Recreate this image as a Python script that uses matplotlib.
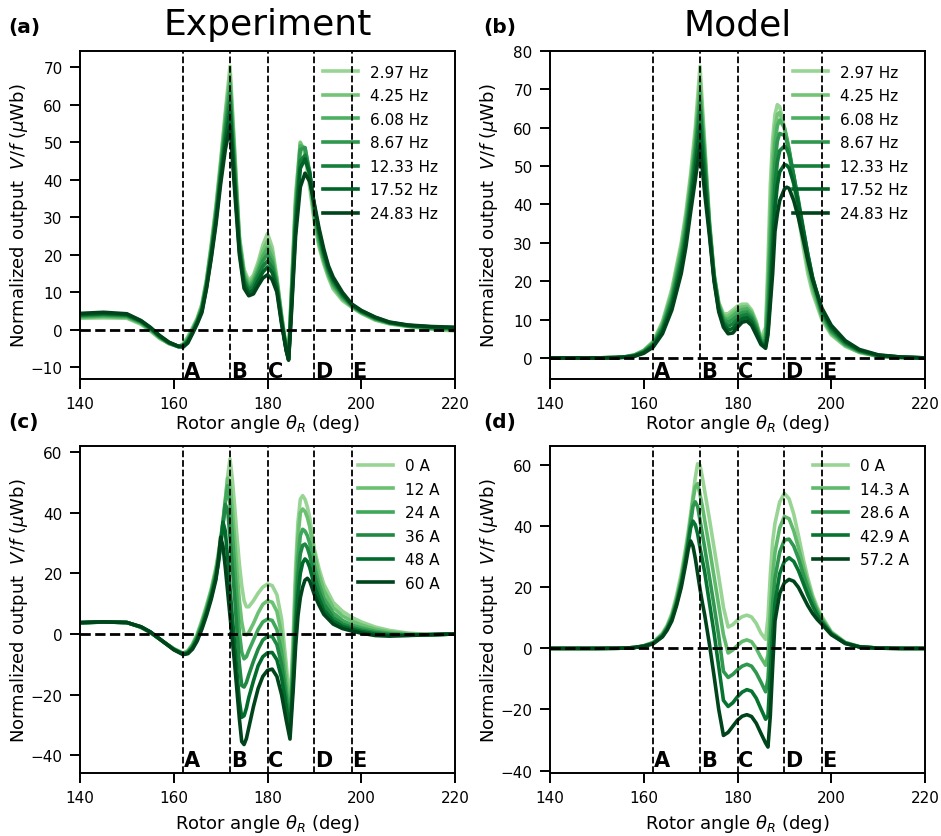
import numpy as np
import matplotlib
matplotlib.use("Agg")
import matplotlib.pyplot as plt
from matplotlib.transforms import blended_transform_factory

plt.rcParams['font.family'] = ['DejaVu Sans']
plt.rcParams['mathtext.fontset'] = 'dejavusans'

# ---------------- data ----------------
region_edges = [162, 172, 180, 190, 198]
region_names = ['A', 'B', 'C', 'D', 'E']

freq_labels = ['2.97 Hz', '4.25 Hz', '6.08 Hz', '8.67 Hz', '12.33 Hz', '17.52 Hz', '24.83 Hz']
exp_current_labels = ['0 A', '12 A', '24 A', '36 A', '48 A', '60 A']
model_current_labels = ['0 A', '14.3 A', '28.6 A', '42.9 A', '57.2 A']

# (a) experiment, frequency sweep
theta_a = [140, 145, 150, 153, 155, 157, 159, 161, 162, 163, 164, 165, 166, 167, 168, 169, 170, 171, 172, 173,
           174, 175, 176, 177, 178, 179, 180, 181, 182, 183, 184, 184.5, 185, 186, 187, 188, 189, 190, 191, 192,
           193, 194, 196, 198, 200, 203, 206, 210, 215, 220]
a_297 = [3.0, 3.1, 3.0, 1.4, -0.4, -2.4, -3.8, -4.6, -3.8, -1.9, 0.5, 3.0, 6.8, 13.5, 22.8, 33.0, 45.0, 58.0, 70.2, 48.0,
         25.0, 16.0, 13.0, 14.5, 18.0, 22.5, 25.6, 22.0, 14.0, 4.0, -5.0, -7.0, 8.0, 36.0, 50.0, 46.5, 38.0, 28.5, 22.0, 17.5,
         13.8, 10.8, 7.7, 5.9, 4.3, 2.5, 1.5, 0.8, 0.1, -0.4]
a_425 = [3.2, 3.4, 3.2, 1.6, -0.2, -2.3, -3.7, -4.6, -4.0, -2.2, 0.2, 2.8, 6.4, 13.1, 22.2, 32.3, 44.2, 56.8, 68.0, 46.5,
         24.3, 15.2, 12.3, 13.8, 17.0, 21.0, 23.6, 20.5, 13.4, 3.6, -5.1, -7.2, 7.0, 34.5, 49.8, 47.5, 39.5, 29.5, 22.8, 18.0,
         14.3, 11.3, 8.1, 6.0, 4.4, 2.6, 1.6, 0.9, 0.2, -0.2]
a_608 = [3.4, 3.6, 3.4, 1.8, 0.0, -2.1, -3.7, -4.6, -4.1, -2.5, -0.1, 2.5, 6.0, 12.7, 21.5, 31.5, 43.2, 55.3, 65.7, 45.0,
         23.5, 14.5, 11.7, 13.0, 16.0, 19.5, 21.8, 19.0, 12.8, 3.2, -5.2, -7.4, 6.0, 33.0, 49.0, 48.5, 41.0, 30.5, 23.5, 18.5,
         14.8, 11.8, 8.4, 6.2, 4.6, 2.8, 1.7, 0.9, 0.3, 0.0]
a_867 = [3.6, 3.9, 3.6, 2.0, 0.2, -2.0, -3.6, -4.5, -4.3, -2.8, -0.4, 2.3, 5.6, 12.3, 20.9, 30.8, 42.2, 53.8, 63.5, 43.0,
         22.8, 13.7, 11.0, 12.3, 15.2, 18.3, 20.1, 17.8, 12.2, 2.8, -5.3, -7.6, 5.0, 31.0, 48.0, 48.5, 42.0, 31.5, 24.5, 19.3,
         15.3, 12.3, 8.8, 6.3, 4.7, 2.9, 1.8, 1.0, 0.4, 0.2]
a_1233 = [3.8, 4.1, 3.8, 2.1, 0.3, -1.9, -3.5, -4.5, -4.4, -3.0, -0.6, 2.0, 5.3, 11.8, 20.2, 30.0, 41.0, 52.0, 60.9, 41.0,
          22.0, 13.0, 10.5, 11.5, 14.3, 16.8, 18.3, 16.5, 11.5, 2.4, -5.4, -7.8, 4.0, 29.0, 45.0, 46.5, 42.0, 32.5, 25.5, 20.0,
          15.9, 12.9, 9.2, 6.5, 4.8, 3.0, 1.8, 1.1, 0.6, 0.3]
a_1752 = [4.0, 4.3, 4.0, 2.3, 0.5, -1.7, -3.5, -4.5, -4.6, -3.3, -0.9, 1.8, 4.9, 11.4, 19.6, 29.0, 40.0, 50.0, 58.2, 39.0,
          21.0, 12.0, 9.8, 10.5, 13.0, 15.3, 16.7, 15.2, 10.8, 2.0, -5.5, -8.0, 3.0, 27.0, 43.0, 45.5, 41.5, 33.0, 26.3, 20.8,
          16.5, 13.4, 9.5, 6.6, 5.0, 3.2, 1.9, 1.1, 0.7, 0.5]
a_2483 = [4.3, 4.6, 4.2, 2.4, 0.6, -1.6, -3.4, -4.5, -4.7, -3.6, -1.1, 1.5, 4.5, 11.0, 19.0, 28.0, 38.8, 48.0, 54.2, 37.0,
          20.0, 11.0, 9.0, 9.5, 11.7, 13.7, 14.6, 13.3, 10.0, 1.5, -5.7, -8.2, 2.0, 25.0, 38.0, 41.7, 39.5, 33.5, 27.0, 21.5,
          17.0, 14.0, 9.9, 6.8, 5.1, 3.3, 2.0, 1.2, 0.8, 0.6]

# (b) model, frequency sweep
theta_b = [140, 150, 154, 156, 158, 160, 162, 164, 166, 168, 169, 170, 171, 172, 173, 174, 175, 176, 177, 178,
           179, 180, 181, 182, 183, 184, 185, 186, 186.5, 187, 187.5, 188, 188.5, 189, 190, 190.5, 191, 192, 193, 194,
           195, 196, 198, 200, 203, 206, 210, 215, 220]
b_297 = [0, 0, 0.1, 0.3, 0.8, 2.0, 4.3, 9.5, 18.0, 30.0, 38.0, 48.0, 60.0, 76.0, 56.0, 36.0, 22.0, 14.5, 11.5, 11.5,
         12.5, 13.5, 14.0, 14.0, 12.5, 9.5, 5.0, 8.0, 25.0, 45.0, 57.0, 63.5, 66.0, 65.5, 60.0, 56.5, 53.0, 45.0, 37.0, 29.0,
         22.0, 17.0, 10.0, 6.0, 3.0, 1.4, 0.4, 0.1, 0]
b_425 = [0, 0, 0.1, 0.3, 0.75, 1.9, 4.1, 9.0, 17.2, 29.0, 36.8, 46.5, 58.0, 72.5, 54.5, 35.5, 21.8, 14.2, 11.0, 10.8,
         11.8, 12.8, 13.3, 13.4, 12.0, 9.1, 4.8, 6.5, 20.0, 38.0, 52.0, 60.0, 63.5, 64.0, 60.0, 57.0, 54.0, 46.0, 38.3, 30.5,
         23.5, 18.0, 10.5, 6.3, 3.2, 1.5, 0.4, 0.1, 0]
b_608 = [0, 0, 0.1, 0.25, 0.7, 1.8, 3.9, 8.5, 16.3, 27.8, 35.5, 45.0, 56.0, 69.5, 53.0, 35.0, 21.5, 13.8, 10.5, 10.0,
         11.0, 12.0, 12.6, 12.8, 11.5, 8.7, 4.6, 5.5, 16.0, 32.0, 46.0, 56.0, 60.5, 62.0, 60.0, 57.5, 54.5, 47.0, 39.5, 32.0,
         24.5, 19.0, 11.0, 6.7, 3.4, 1.6, 0.5, 0.1, 0]
b_867 = [0, 0, 0.1, 0.25, 0.65, 1.7, 3.7, 8.0, 15.5, 26.6, 34.0, 43.5, 54.2, 67.0, 51.5, 34.5, 21.3, 13.5, 10.0, 9.2,
         10.0, 11.0, 11.8, 12.0, 10.8, 8.2, 4.4, 4.5, 12.0, 26.0, 40.0, 51.0, 56.5, 58.5, 58.0, 56.5, 54.0, 47.5, 40.5, 33.0,
         26.0, 20.0, 11.5, 7.0, 3.6, 1.7, 0.5, 0.1, 0]
b_1233 = [0, 0, 0.1, 0.2, 0.6, 1.5, 3.4, 7.5, 14.6, 25.3, 32.5, 41.8, 52.3, 64.5, 49.5, 34.0, 21.0, 13.0, 9.3, 8.2,
          8.9, 10.0, 11.0, 11.3, 10.2, 7.5, 4.1, 3.5, 9.0, 20.0, 33.0, 45.0, 51.0, 54.0, 55.2, 54.5, 53.0, 47.5, 41.0, 34.0,
          27.0, 21.0, 12.0, 7.5, 3.9, 1.9, 0.6, 0.2, 0]
b_1752 = [0, 0, 0.05, 0.2, 0.5, 1.4, 3.1, 6.9, 13.6, 23.8, 30.8, 40.0, 49.5, 60.4, 46.5, 33.0, 20.5, 12.5, 8.7, 7.2,
          7.7, 9.0, 10.2, 10.5, 9.4, 6.8, 3.8, 3.0, 7.0, 16.0, 28.0, 39.0, 45.0, 48.5, 50.4, 50.2, 49.5, 45.5, 40.0, 33.5,
          27.0, 21.0, 12.5, 8.0, 4.2, 2.0, 0.7, 0.2, 0]
b_2483 = [0, 0, 0.05, 0.15, 0.4, 1.2, 2.8, 6.3, 12.5, 22.0, 29.0, 38.0, 46.5, 55.2, 43.0, 32.0, 20.0, 12.0, 8.0, 6.3,
          6.5, 8.0, 9.3, 9.6, 8.5, 6.0, 3.5, 2.5, 6.0, 14.0, 22.0, 33.0, 37.5, 41.0, 44.0, 44.5, 44.2, 41.0, 36.5, 31.0,
          25.5, 20.5, 13.0, 8.5, 4.5, 2.2, 0.8, 0.2, 0]

# (c) experiment, current sweep
theta_c = [140, 145, 150, 153, 155, 158, 160, 162, 163, 164, 165, 166, 167, 168, 169, 169.5, 170, 170.5, 171, 171.5,
           172, 172.5, 173, 173.5, 174, 174.5, 175, 175.5, 176, 177, 178, 179, 180, 181, 182, 183, 184, 184.8, 185.5, 186,
           186.5, 187, 187.5, 188, 188.5, 189, 190, 191, 192, 194, 196, 198, 200, 203, 206, 210, 215, 220]
c_0 = [3.6, 4.0, 3.8, 2.2, 0.5, -2.8, -4.8, -6.3, -5.5, -3.3, 0.0, 4.5, 9.5, 15.0, 22.0, 26.5, 31.5, 37.5, 44.5, 52.0,
       57.8, 51.0, 42.0, 32.0, 23.0, 16.0, 11.0, 9.0, 9.0, 11.0, 13.5, 15.5, 16.5, 16.0, 13.0, 5.0, -10.0, -24.0, 0.0, 22.0,
       37.0, 44.5, 45.7, 44.5, 42.0, 38.5, 28.0, 21.5, 16.5, 10.5, 7.5, 5.5, 4.0, 2.3, 1.2, 0.3, -0.2, 0.0]
c_12 = [3.6, 4.0, 3.8, 2.2, 0.5, -2.8, -4.9, -6.4, -5.7, -3.6, -0.4, 4.0, 8.9, 14.4, 21.3, 25.8, 31.0, 37.0, 44.0, 51.5,
        50.0, 41.0, 31.0, 20.5, 11.0, 4.0, 0.0, -0.3, 0.5, 3.5, 7.0, 9.8, 11.0, 10.5, 7.5, 0.0, -14.0, -26.0, -4.0, 17.0,
        32.0, 40.0, 41.3, 40.5, 38.5, 35.5, 26.5, 19.5, 14.5, 8.8, 6.0, 4.3, 3.0, 1.6, 0.7, 0.1, -0.2, 0.0]
c_24 = [3.7, 4.0, 3.8, 2.3, 0.6, -2.8, -5.0, -6.5, -5.9, -3.9, -0.8, 3.4, 8.3, 13.8, 20.5, 25.0, 30.5, 36.5, 43.5, 49.0,
        43.0, 33.0, 22.0, 10.5, 0.5, -6.0, -8.2, -7.5, -5.5, -2.0, 1.5, 4.0, 4.9, 4.5, 1.5, -6.0, -18.0, -28.0, -8.0, 11.0,
        25.0, 32.5, 34.6, 34.0, 32.5, 30.0, 22.5, 16.5, 12.0, 7.0, 4.5, 3.0, 2.0, 0.9, 0.2, -0.2, -0.2, 0.0]
c_36 = [3.7, 4.0, 3.8, 2.3, 0.6, -2.8, -5.0, -6.6, -6.1, -4.3, -1.3, 2.8, 7.6, 13.0, 19.6, 24.0, 29.5, 36.0, 42.8, 41.0,
        32.0, 22.0, 12.0, 1.0, -10.0, -17.0, -17.5, -16.0, -13.5, -9.0, -5.0, -2.0, -0.8, -0.8, -3.5, -10.0, -21.0, -30.0, -12.0, 5.0,
        19.0, 26.5, 29.3, 29.7, 28.5, 26.0, 19.5, 14.0, 10.0, 5.5, 3.3, 2.2, 1.3, 0.4, -0.1, -0.3, -0.2, 0.0]
c_48 = [3.8, 4.0, 3.8, 2.4, 0.7, -2.8, -5.1, -6.7, -6.3, -4.6, -1.8, 2.2, 6.9, 12.3, 18.7, 23.0, 29.0, 37.0, 34.0, 25.0,
        15.0, 5.5, -3.5, -13.0, -22.0, -27.5, -27.0, -24.5, -21.0, -15.5, -10.5, -7.5, -6.2, -6.1, -8.5, -14.5, -24.0, -32.0, -15.0, 1.0,
        13.0, 20.0, 23.5, 24.8, 24.0, 22.0, 16.0, 11.5, 8.0, 4.3, 2.5, 1.6, 0.8, 0.0, -0.4, -0.4, -0.2, 0.0]
c_60 = [3.8, 4.0, 3.8, 2.4, 0.7, -2.8, -5.2, -6.8, -6.5, -5.0, -2.3, 1.6, 6.2, 11.5, 18.0, 24.0, 32.0, 29.0, 22.0, 14.0,
        6.0, -2.0, -10.0, -19.0, -28.0, -35.5, -36.5, -34.5, -31.0, -24.0, -18.0, -14.0, -12.0, -11.6, -14.0, -20.0, -28.5, -34.7, -18.0, -4.0,
        6.0, 12.0, 15.5, 17.8, 18.4, 17.5, 13.0, 9.5, 6.5, 3.3, 1.8, 1.0, 0.3, -0.5, -0.7, -0.5, -0.2, 0.0]

# (d) model, current sweep
theta_d = [140, 150, 154, 156, 158, 160, 162, 164, 165, 166, 167, 168, 169, 169.5, 170, 170.5, 171, 171.5, 172, 172.5,
           173, 174, 175, 176, 177, 178, 179, 180, 181, 182, 183, 184, 185, 186, 186.5, 187, 187.5, 188, 189, 190,
           191, 192, 193, 194, 195, 196, 197, 198, 200, 203, 206, 210, 215, 220]
d_0 = [0, 0, 0.05, 0.1, 0.3, 0.9, 2.0, 5.0, 7.6, 11.5, 17.4, 24.5, 33.5, 38.5, 44.0, 50.0, 56.0, 60.5, 60.0, 56.0,
       51.5, 42.5, 33.0, 23.5, 13.5, 7.0, 7.8, 9.3, 10.4, 10.9, 10.3, 8.2, 5.0, 3.0, 10.0, 24.0, 35.0, 41.0, 48.0, 50.8,
       49.0, 44.0, 37.0, 29.5, 23.0, 17.5, 13.5, 10.5, 5.5, 2.0, 0.6, 0.1, 0.0, 0.0]
d_143 = [0, 0, 0.05, 0.1, 0.3, 0.85, 1.9, 4.7, 7.2, 10.8, 16.2, 23.0, 32.0, 37.0, 42.5, 48.5, 53.0, 54.0, 50.5, 46.5,
         42.0, 33.0, 23.5, 14.0, 4.5, -1.5, -0.5, 1.0, 2.3, 2.8, 2.2, 0.0, -3.0, -5.5, -2.0, 12.0, 24.0, 31.5, 39.5, 43.2,
         42.5, 38.5, 33.0, 27.0, 21.5, 16.5, 12.8, 9.8, 5.2, 1.9, 0.6, 0.1, 0.0, 0.0]
d_286 = [0, 0, 0.05, 0.1, 0.3, 0.8, 1.8, 4.4, 6.8, 10.2, 15.4, 22.0, 30.5, 35.5, 41.0, 46.5, 48.0, 46.5, 42.0, 37.5,
         33.0, 23.5, 14.0, 4.0, -7.5, -9.5, -8.5, -7.0, -5.8, -5.2, -5.8, -8.0, -11.0, -14.2, -10.0, 3.0, 15.0, 23.0, 31.5, 35.5,
         35.8, 33.5, 29.5, 24.5, 19.8, 15.5, 12.0, 9.2, 5.0, 1.8, 0.5, 0.1, 0.0, 0.0]
d_429 = [0, 0, 0.05, 0.1, 0.3, 0.75, 1.6, 4.1, 6.4, 9.6, 14.7, 21.0, 29.5, 34.5, 39.5, 41.7, 40.5, 37.5, 33.0, 29.0,
         25.0, 15.0, 5.0, -6.0, -17.0, -19.0, -17.8, -15.8, -14.3, -13.5, -14.0, -16.3, -19.8, -23.2, -22.0, -8.0, 5.0, 15.0, 24.5, 28.5,
         29.7, 28.5, 25.5, 21.5, 17.5, 14.0, 11.0, 8.6, 4.8, 1.7, 0.5, 0.1, 0.0, 0.0]
d_572 = [0, 0, 0.05, 0.1, 0.3, 0.7, 1.5, 3.8, 6.0, 9.0, 14.0, 20.0, 28.0, 32.5, 35.2, 33.5, 29.5, 24.5, 19.5, 15.0,
         11.0, 1.5, -9.0, -20.0, -28.5, -27.5, -25.5, -23.5, -22.2, -21.7, -22.3, -24.5, -27.8, -31.0, -32.3, -22.0, -6.0, 9.0, 18.0, 21.5,
         22.6, 22.0, 20.0, 17.0, 14.0, 11.5, 9.5, 7.9, 4.5, 1.6, 0.5, 0.1, 0.0, 0.0]

# ---------------- figure ----------------
W, H = 941, 837
fig = plt.figure(figsize=(W / 100, H / 100), dpi=100)


def rect(l, t, r, b):
    return [l / W, 1 - b / H, (r - l) / W, (b - t) / H]


panels = [
    dict(box=rect(80, 52, 455, 380), x=theta_a, ys=[a_297, a_425, a_608, a_867, a_1233, a_1752, a_2483],
         labels=freq_labels, ylim=(-13.2, 74.3), yticks=np.arange(-10, 71, 10), leg=(0.632, 0.977), ly=0.005,
         xly=-0.101),
    dict(box=rect(550, 52, 925, 380), x=theta_b, ys=[b_297, b_425, b_608, b_867, b_1233, b_1752, b_2483],
         labels=freq_labels, ylim=(-5.5, 80), yticks=np.arange(0, 81, 10), leg=(0.632, 0.977), ly=0.005,
         xly=-0.101),
    dict(box=rect(80, 446.7, 455, 774), x=theta_c, ys=[c_0, c_12, c_24, c_36, c_48, c_60],
         labels=exp_current_labels, ylim=(-45.9, 62.2), yticks=np.arange(-40, 61, 20), leg=(0.725, 0.981), ly=0.022,
         xly=-0.119),
    dict(box=rect(550, 446.7, 925, 774), x=theta_d, ys=[d_0, d_143, d_286, d_429, d_572],
         labels=model_current_labels, ylim=(-40.8, 66.4), yticks=np.arange(-40, 61, 20), leg=(0.685, 0.981), ly=0.022,
         xly=-0.119),
]

cmap = plt.get_cmap('Greens')
for p in panels:
    ax = fig.add_axes(p['box'])
    n = len(p['ys'])
    cols = cmap(np.linspace(0.4, 1.0, n))
    for y, c, lab in zip(p['ys'], cols, p['labels']):
        ax.plot(p['x'], y, color=c, lw=2.6, label=lab, zorder=2)
    ax.axhline(0, color='k', ls='--', lw=2.0, zorder=6)
    for xe in region_edges:
        ax.axvline(xe, color='k', ls='--', lw=1.3, zorder=6)
    trans = blended_transform_factory(ax.transData, ax.transAxes)
    for xe, nm in zip(region_edges, region_names):
        ax.text(xe + 0.15, p['ly'], nm, transform=trans, fontsize=15, fontweight='bold',
                ha='left', va='baseline', zorder=7)
    ax.set_xlim(140, 220)
    ax.set_xticks(np.arange(140, 221, 20))
    ax.set_ylim(*p['ylim'])
    ax.set_yticks(p['yticks'])
    ax.tick_params(direction='out', length=7, width=1.4, pad=5.5, labelsize=11)
    for s in ax.spines.values():
        s.set_linewidth(1.4)
    ax.set_xlabel(r'Rotor angle $\theta_R$ (deg)', fontsize=13)
    ax.set_ylabel(r'Normalized output  $V/f$ ($\mu$Wb)', fontsize=13)
    ax.yaxis.set_label_coords(-0.133, 0.5)
    ax.xaxis.set_label_coords(0.5, p['xly'])
    ax.legend(frameon=False, loc='upper left', bbox_to_anchor=p['leg'], borderaxespad=0,
              handlelength=2.3, handletextpad=0.8, labelspacing=0.56, fontsize=11)

# titles and panel labels
fig.text(267.5 / W, 1 - 35.5 / H, 'Experiment', fontsize=26, ha='center', va='baseline')
fig.text(737.5 / W, 1 - 35.5 / H, 'Model', fontsize=26, ha='center', va='baseline')
fig.text(8 / W, 1 - 32.5 / H, '(a)', fontsize=14.5, fontweight='bold', ha='left', va='baseline')
fig.text(483 / W, 1 - 32.5 / H, '(b)', fontsize=14.5, fontweight='bold', ha='left', va='baseline')
fig.text(8 / W, 1 - 428 / H, '(c)', fontsize=14.5, fontweight='bold', ha='left', va='baseline')
fig.text(483 / W, 1 - 428 / H, '(d)', fontsize=14.5, fontweight='bold', ha='left', va='baseline')

fig.savefig('out.png', dpi=100, facecolor='white')
